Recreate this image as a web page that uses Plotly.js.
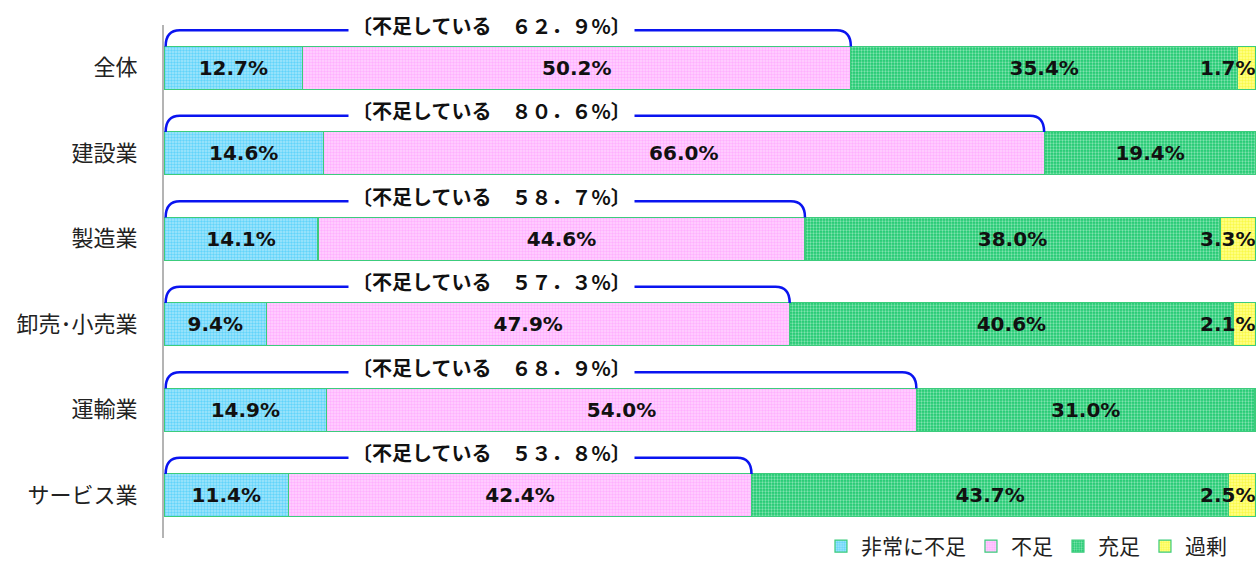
<!DOCTYPE html>
<html>
<head>
<meta charset="utf-8">
<script src="https://cdn.plot.ly/plotly-3.0.1.min.js"></script>
<style>html,body{margin:0;padding:0;background:#fff;}#chart{width:1256px;height:567px;}</style>
</head>
<body>
<div id="chart"></div>
<script>
const categories = ["全体", "建設業", "製造業", "卸売･小売業", "運輸業", "サービス業"];
const seriesNames = ["非常に不足", "不足", "充足", "過剰"];
const verySevere = [12.7, 14.6, 14.1, 9.4, 14.9, 11.4];
const shortage   = [50.2, 66.0, 44.6, 47.9, 54.0, 42.4];
const sufficient = [35.4, 19.4, 38.0, 40.6, 31.0, 43.7];
const surplus    = [1.7, null, 3.3, 2.1, null, 2.5];

const yIdx = categories.map((c, i) => i);
const fgColors = ["#1ec2f8", "#ff8cff", "#e4fbee", "#f4f400"];
const bgColors = ["#a6e6fc", "#ffd4ff", "#1cc86e", "#ffff90"];
const solid = [0.5, 0.5, 0.45, 0.5];
const allSeries = [verySevere, shortage, sufficient, surplus];
const labelFont = {family: "DejaVu Sans", size: 20, color: "#111", weight: "bold"};

const traces = allSeries.map((vals, k) => ({
  type: "bar",
  orientation: "h",
  name: seriesNames[k],
  y: yIdx,
  x: vals,
  width: 0.5,
  marker: {
    color: bgColors[k],
    line: {color: "#3ccc7c", width: 1.2},
    pattern: {shape: ".", fgcolor: fgColors[k], bgcolor: bgColors[k], size: 3, solidity: solid[k], fillmode: "overlay"}
  },
  texttemplate: k < 3 ? "%{x:.1f}%" : "",
  textposition: k < 3 ? "inside" : "none",
  insidetextanchor: "middle",
  constraintext: "none",
  textangle: 0,
  textfont: labelFont,
  hoverinfo: "skip"
}));

function toFull(s) {
  return s.replace(/[0-9]/g, d => String.fromCharCode(d.charCodeAt(0) + 0xFEE0)).replace(/\./g, "．");
}

const shapes = [];
const annotations = [];
yIdx.forEach(i => {
  const total = verySevere[i] + shortage[i];
  const yb = i - 0.25;
  const yl = i - 0.44;
  const r = 1.3;
  shapes.push({
    type: "path", xref: "x", yref: "y",
    path: `M 0.15,${yb} Q 0.15,${yl} ${0.15 + r},${yl} L ${total - r},${yl} Q ${total},${yl} ${total},${yb}`,
    line: {color: "#0a14f0", width: 2.5}
  });
  annotations.push({
    xref: "x", yref: "y", x: 30, y: yl, yshift: 5,
    text: "〔不足している　" + toFull(total.toFixed(1)) + "%〕",
    showarrow: false, bgcolor: "#fff", borderpad: 3,
    font: {family: "Noto Sans CJK JP", size: 20, color: "#111", weight: "bold"}
  });
  if (surplus[i] != null) {
    const end = Math.min(99.99, Math.round((verySevere[i] + shortage[i] + sufficient[i] + surplus[i]) * 10) / 10);
    annotations.push({
      xref: "x", yref: "y", x: end, y: i, xanchor: "right", xshift: 1,
      text: surplus[i].toFixed(1) + "%",
      showarrow: false, font: labelFont
    });
  }
});

const layout = {
  width: 1256, height: 567,
  margin: {l: 164, r: 0, t: 25, b: 29, autoexpand: false},
  barmode: "stack",
  showlegend: true,
  paper_bgcolor: "#fff", plot_bgcolor: "#fff",
  xaxis: {range: [0, 100], visible: false, fixedrange: true},
  yaxis: {
    range: [5.5, -0.5], tickmode: "array", tickvals: yIdx, ticktext: categories,
    showgrid: false, zeroline: false, showline: true, linecolor: "#b4b4b4", linewidth: 2,
    ticks: "", ticklabelstandoff: 20,
    tickfont: {family: "Noto Sans CJK JP", size: 22, color: "#222"}
  },
  legend: {
    orientation: "h", x: 0.978, xanchor: "right", y: -0.0565, yanchor: "bottom",
    font: {family: "Noto Sans CJK JP", size: 21, color: "#222"},
    traceorder: "normal", itemclick: false, bgcolor: "rgba(0,0,0,0)"
  },
  shapes: shapes,
  annotations: annotations
};

Plotly.newPlot("chart", traces, layout, {displayModeBar: false, staticPlot: true});
</script>
</body>
</html>
